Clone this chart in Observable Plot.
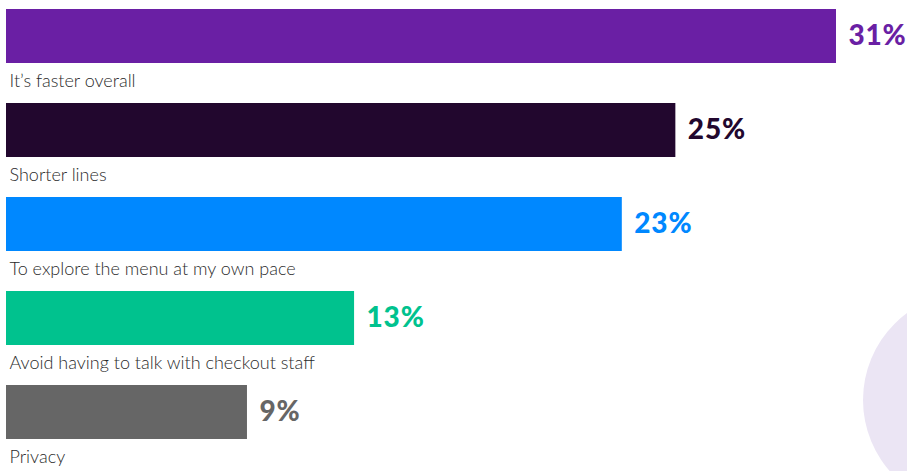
<!DOCTYPE html>
<html>
<head>
<meta charset="utf-8">
<script src="https://cdn.jsdelivr.net/npm/d3@7"></script>
<script src="https://cdn.jsdelivr.net/npm/@observablehq/plot@0.6"></script>
<style>
  html, body { margin: 0; padding: 0; background: #ffffff; overflow: hidden; }
  #wrap { position: relative; width: 907px; height: 471px; }
  #deco { position: absolute; left: 863px; top: 292px; width: 216px; height: 216px;
          border-radius: 50%; background: #ebe5f4; z-index: 0; }
  #chart { position: absolute; left: 0; top: 0; z-index: 1; }
  #chart svg { background: transparent; }
</style>
</head>
<body>
<div id="wrap"><div id="deco"></div><div id="chart"></div></div>
<script>
const categories = [
  "It’s faster overall",
  "Shorter lines",
  "To explore the menu at my own pace",
  "Avoid having to talk with checkout staff",
  "Privacy"
];
const values = [31, 25, 23, 13, 9];
const valueLabels = ["31%", "25%", "23%", "13%", "9%"];
const colors = ["#6a1fa4", "#22072e", "#0088ff", "#00c28e", "#666666"];

const data = categories.map((c, i) => ({cat: c, value: values[i], label: valueLabels[i]}));

const chart = Plot.plot({
  width: 907,
  height: 471,
  marginLeft: 6,
  marginRight: 71,
  marginTop: 8,
  marginBottom: 32,
  style: {background: "transparent"},
  x: {domain: [0, 31], axis: null},
  y: {domain: categories, axis: null, paddingInner: 0.427, paddingOuter: 0},
  color: {domain: categories, range: colors},
  marks: [
    Plot.barX(data, {x: "value", y: "cat", fill: "cat"}),
    Plot.text(data, {
      x: "value", y: "cat", text: "label", fill: "cat",
      textAnchor: "start", dx: 12, lineAnchor: "middle",
      fontSize: 28, fontWeight: 900, fontFamily: "Lato"
    }),
    Plot.text(data, {
      x: 0, y: "cat", text: "cat", fill: "#2b2b2b",
      textAnchor: "start", dx: 3, dy: 50, lineAnchor: "bottom",
      fontSize: 18, fontWeight: 300, fontFamily: "Lato"
    })
  ]
});
d3.select(chart).selectAll('g[font-weight="900"]').attr("letter-spacing", "0.8px");
document.getElementById("chart").appendChild(chart);
</script>
</body>
</html>
